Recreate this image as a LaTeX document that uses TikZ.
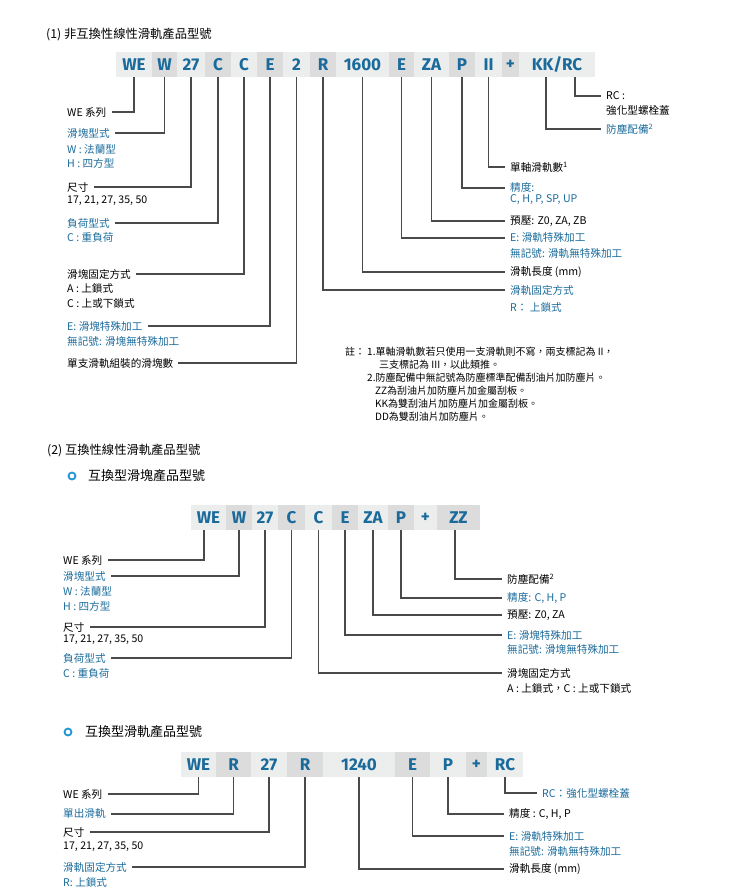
\documentclass[tikz,border=0pt]{standalone}
\usepackage{fontspec}
\newfontfamily\cjk{Noto Sans CJK TC}
\newfontfamily\hdrfont{Fira Sans}
\definecolor{tblue}{HTML}{1A6B9B}
\definecolor{bblue}{HTML}{1E96D2}
\definecolor{clight}{HTML}{ECEDED}
\definecolor{cdark}{HTML}{DCDCDC}
\definecolor{lgray}{HTML}{4A4A4A}
\tikzset{
  hcell/.style={minimum height=25pt, inner sep=0pt, text=tblue, font=\hdrfont\bfseries\fontsize{17}{17}\selectfont},
  hl/.style={hcell, fill=clight, minimum width=#1},
  hd/.style={hcell, fill=cdark, minimum width=#1},
  lab/.style={anchor=west, inner xsep=5pt, inner ysep=0pt, font=\cjk\fontsize{10.6}{12}\selectfont, text=black},
  blab/.style={lab, text=tblue},
  ttl/.style={anchor=west, inner sep=0pt, font=\cjk\fontsize{12.3}{14}\selectfont},
  sttl/.style={anchor=west, inner sep=0pt, font=\cjk\fontsize{13}{15}\selectfont},
  notel/.style={anchor=west, inner sep=0pt, font=\cjk\fontsize{10}{12}\selectfont},
  conn/.style={draw=lgray, line width=1.2pt},
  bul/.style={circle, draw=bblue, line width=1.8pt, minimum size=7pt, inner sep=0pt}
}
\begin{document}
\begin{tikzpicture}[x=1pt,y=-1pt]
\useasboundingbox (0,0) rectangle (752,891);
% ---------- Section 1 ----------
\node[ttl] (t1) at (46,34) {(1) 非互換性線性滑軌產品型號};
\node[hl=36pt] (a1) at (134,64.5) {WE};
\node[hd=25pt] (a2) at (164.5,64.5) {W};
\node[hl=28pt] (a3) at (191,64.5) {27};
\node[hd=26pt] (a4) at (218,64.5) {C};
\node[hl=26pt] (a5) at (244,64.5) {C};
\node[hd=26pt] (a6) at (270,64.5) {E};
\node[hl=27pt] (a7) at (296.5,64.5) {2};
\node[hd=26pt] (a8) at (323,64.5) {R};
\node[hl=53pt] (a9) at (362.5,64.5) {1600};
\node[hd=25pt] (a10) at (401.5,64.5) {E};
\node[hl=35pt] (a11) at (431.5,64.5) {ZA};
\node[hd=26pt] (a12) at (462,64.5) {P};
\node[hl=27pt] (a13) at (488.5,64.5) {II};
\node[hd=17pt] (a14) at (510.5,64.5) {+};
\node[hl=76pt] (a15) at (557,64.5) {KK/RC};
\coordinate (akk) at (546,77);
\coordinate (arc) at (575,77);

\node[lab] (l1a) at (62,112) {WE 系列};
\node[blab] (l1b) at (62,133) {滑塊型式};
\node[blab] (l1b2) at (62,149) {W : 法蘭型};
\node[blab] (l1b3) at (62,163) {H : 四方型};
\node[lab] (l1c) at (62,187) {尺寸};
\node[lab] (l1c2) at (62,201) {17, 21, 27, 35, 50};
\node[blab] (l1d) at (62,223) {負荷型式};
\node[blab] (l1d2) at (62,237) {C : 重負荷};
\node[lab] (l1e) at (62,274) {滑塊固定方式};
\node[lab] (l1e2) at (62,288) {A : 上鎖式};
\node[lab] (l1e3) at (62,303) {C : 上或下鎖式};
\node[blab] (l1f) at (62,326) {E: 滑塊特殊加工};
\node[blab] (l1f2) at (62,341) {無記號: 滑塊無特殊加工};
\node[lab] (l1g) at (62,363) {單支滑軌組裝的滑塊數};

\node[lab] (r1a) at (601,96) {RC :};
\node[lab] (r1a2) at (601,111) {強化型螺栓蓋};
\node[blab] (r1b) at (601,129) {防塵配備\textsuperscript{2}};
\node[lab] (r1c) at (505,167) {單軸滑軌數\textsuperscript{1}};
\node[blab] (r1d) at (505,188) {精度:};
\node[blab] (r1d2) at (505,200) {C, H, P, SP, UP};
\node[lab] (r1e) at (505,221) {預壓: Z0, ZA, ZB};
\node[blab] (r1f) at (505,238) {E: 滑軌特殊加工};
\node[blab] (r1f2) at (505,253) {無記號: 滑軌無特殊加工};
\node[lab] (r1g) at (505,272) {滑軌長度 (mm)};
\node[blab] (r1h) at (505,290) {滑軌固定方式};
\node[blab] (r1h2) at (505,307) {R： 上鎖式};

\draw[conn] (a1.south) |- (l1a.east);
\draw[conn] (a2.south) |- (l1b.east);
\draw[conn] (a3.south) |- (l1c.east);
\draw[conn] (a4.south) |- (l1d.east);
\draw[conn] (a5.south) |- (l1e.east);
\draw[conn] (a6.south) |- (l1f.east);
\draw[conn] (a7.south) |- (l1g.east);
\draw[conn] (a8.south) |- (r1h.west);
\draw[conn] (a9.south) |- (r1g.west);
\draw[conn] (a10.south) |- (r1f.west);
\draw[conn] (a11.south) |- (r1e.west);
\draw[conn] (a12.south) |- (r1d.west);
\draw[conn] (a13.south) |- (r1c.west);
\draw[conn] (akk) |- (r1b.west);
\draw[conn] (arc) |- (r1a.west);

\node[notel] (n0) at (345,352) {註：};
\node[notel] (n1) at (367,352) {1.單軸滑軌數若只使用一支滑軌則不寫，兩支標記為 II，};
\node[notel] (n2) at (379,365) {三支標記為 III，以此類推。};
\node[notel] (n3) at (367,378) {2.防塵配備中無記號為防塵標準配備刮油片加防塵片。};
\node[notel] (n4) at (375,391) {ZZ為刮油片加防塵片加金屬刮板。};
\node[notel] (n5) at (375,404) {KK為雙刮油片加防塵片加金屬刮板。};
\node[notel] (n6) at (375,417) {DD為雙刮油片加防塵片。};

% ---------- Section 2 ----------
\node[ttl] (t2) at (47,450) {(2) 互換性線性滑軌產品型號};
\node[bul] (b2) at (72,476) {};
\node[sttl] (t2b) at (88,476) {互換型滑塊產品型號};
\node[hl=35pt] (b1) at (208.5,517.5) {WE};
\node[hd=26pt] (bb2) at (239,517.5) {W};
\node[hl=26pt] (b3) at (265,517.5) {27};
\node[hd=27pt] (b4) at (291.5,517.5) {C};
\node[hl=27pt] (b5) at (318.5,517.5) {C};
\node[hd=26pt] (b6) at (345,517.5) {E};
\node[hl=30pt] (b7) at (373,517.5) {ZA};
\node[hd=26pt] (b8) at (401,517.5) {P};
\node[hl=23pt] (b9) at (425.5,517.5) {+};
\node[hd=43pt] (b10) at (458.5,517.5) {ZZ};
\coordinate (bwe) at (204,530);
\coordinate (bzz) at (455,530);

\node[lab] (l2a) at (58,560) {WE 系列};
\node[blab] (l2b) at (58,576) {滑塊型式};
\node[blab] (l2b2) at (58,591) {W : 法蘭型};
\node[blab] (l2b3) at (58,606) {H : 四方型};
\node[lab] (l2c) at (58,627) {尺寸};
\node[lab] (l2c2) at (58,640) {17, 21, 27, 35, 50};
\node[blab] (l2d) at (58,658) {負荷型式};
\node[blab] (l2d2) at (58,673) {C : 重負荷};

\node[lab] (r2a) at (502,579) {防塵配備\textsuperscript{2}};
\node[blab] (r2b) at (502,598) {精度:  C, H, P};
\node[lab] (r2c) at (502,615) {預壓:  Z0, ZA};
\node[blab] (r2d) at (502,635) {E: 滑塊特殊加工};
\node[blab] (r2d2) at (502,649) {無記號: 滑塊無特殊加工};
\node[lab] (r2e) at (502,673) {滑塊固定方式};
\node[lab] (r2e2) at (502,688) {A : 上鎖式，C : 上或下鎖式};

\draw[conn] (bwe) |- (l2a.east);
\draw[conn] (bb2.south) |- (l2b.east);
\draw[conn] (b3.south) |- (l2c.east);
\draw[conn] (b4.south) |- (l2d.east);
\draw[conn] (b5.south) |- (r2e.west);
\draw[conn] (b6.south) |- (r2d.west);
\draw[conn] (b7.south) |- (r2c.west);
\draw[conn] (b8.south) |- (r2b.west);
\draw[conn] (bzz) |- (r2a.west);

% ---------- Section 3 ----------
\node[bul] (b3b) at (68,732) {};
\node[sttl] (t3) at (85,732) {互換型滑軌產品型號};
\node[hl=35pt] (c1) at (198.5,764.5) {WE};
\node[hd=35pt] (c2) at (233.5,764.5) {R};
\node[hl=36pt] (c3) at (269,764.5) {27};
\node[hd=36pt] (c4) at (305,764.5) {R};
\node[hl=72pt] (c5) at (359,764.5) {1240};
\node[hd=35pt] (c6) at (412.5,764.5) {E};
\node[hl=36pt] (c7) at (448,764.5) {P};
\node[hd=21pt] (c8) at (476.5,764.5) {+};
\node[hl=36pt] (c9) at (505,764.5) {RC};

\node[lab] (l3a) at (58,794) {WE 系列};
\node[blab] (l3b) at (58,814) {單出滑軌};
\node[lab] (l3c) at (58,832) {尺寸};
\node[lab] (l3c2) at (58,847) {17, 21, 27, 35, 50};
\node[blab] (l3d) at (58,867) {滑軌固定方式};
\node[blab] (l3d2) at (58,882) {R: 上鎖式};

\node[blab] (r3a) at (537,793) {RC：強化型螺栓蓋};
\node[lab] (r3b) at (504,814) {精度 : C, H, P};
\node[blab] (r3c) at (504,836) {E: 滑軌特殊加工};
\node[blab] (r3c2) at (504,851) {無記號: 滑軌無特殊加工};
\node[lab] (r3d) at (504,869) {滑軌長度 (mm)};

\draw[conn] (c1.south) |- (l3a.east);
\draw[conn] (c2.south) |- (l3b.east);
\draw[conn] (c3.south) |- (l3c.east);
\draw[conn] (c4.south) |- (l3d.east);
\draw[conn] (c5.south) |- (r3d.west);
\draw[conn] (c6.south) |- (r3c.west);
\draw[conn] (c7.south) |- (r3b.west);
\draw[conn] (c9.south) |- (r3a.west);
\end{tikzpicture}
\end{document}
